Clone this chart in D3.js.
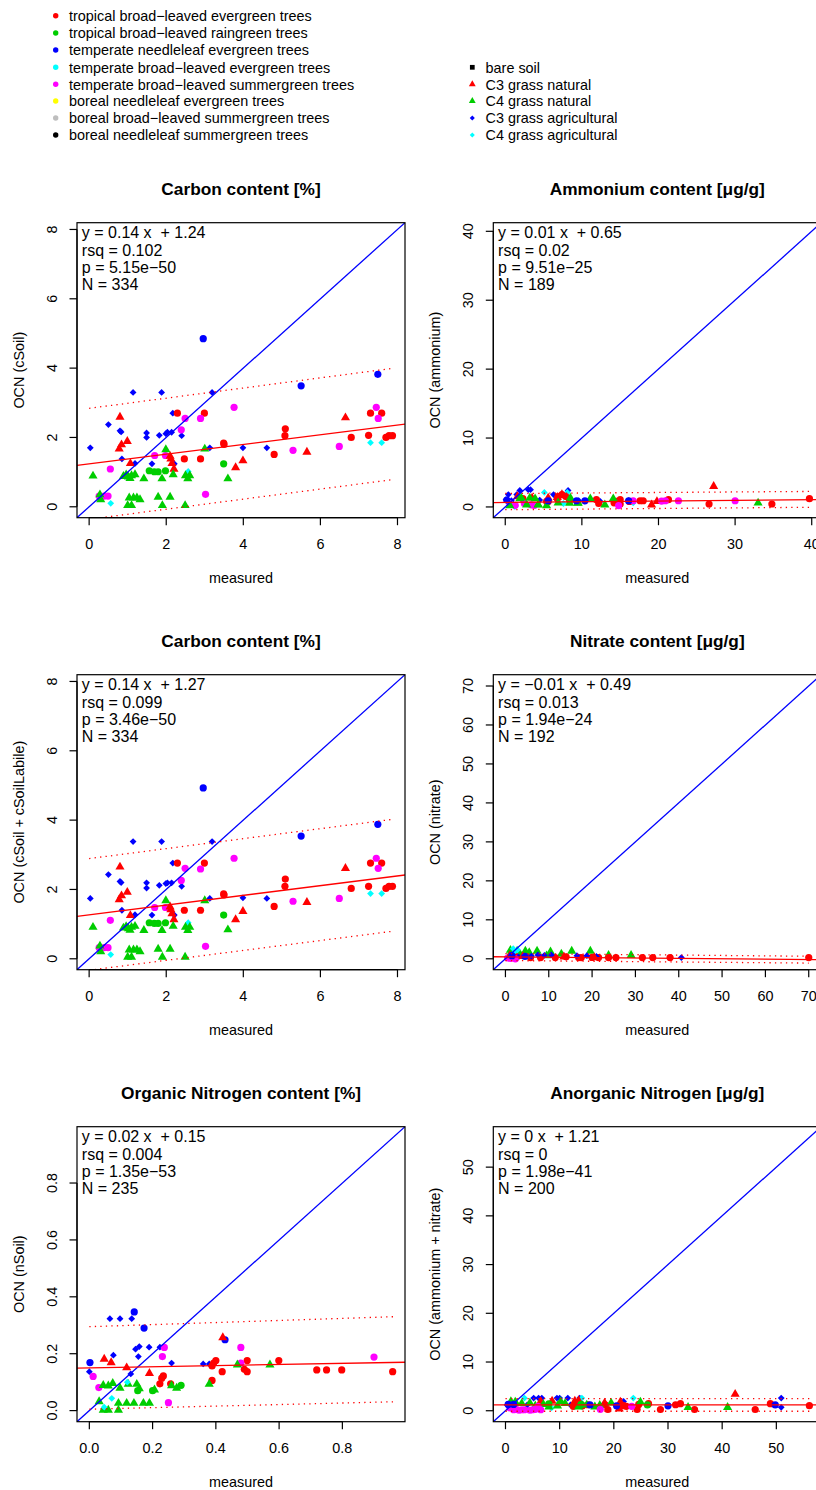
<!DOCTYPE html>
<html>
<head>
<meta charset="utf-8">
<script src="https://cdn.jsdelivr.net/npm/d3@7"></script>
<style>
  body { margin: 0; background: #fff; }
  svg { display: block; }
  text { font-family: "Liberation Sans", Arial, Helvetica, sans-serif; fill: #000; }
</style>
</head>
<body>
<svg id="chart" width="816" height="1490"></svg>
<script>
// ---- plant functional types (legend) ----
const pftLabels = [
  "tropical broad\u2212leaved evergreen trees",
  "tropical broad\u2212leaved raingreen trees",
  "temperate needleleaf evergreen trees",
  "temperate broad\u2212leaved evergreen trees",
  "temperate broad\u2212leaved summergreen trees",
  "boreal needleleaf evergreen trees",
  "boreal broad\u2212leaved summergreen trees",
  "boreal needleleaf summergreen trees",
  "bare soil",
  "C3 grass natural",
  "C4 grass natural",
  "C3 grass agricultural",
  "C4 grass agricultural"
];
const pftColors = ["#FF0000","#00CD00","#0000FF","#00FFFF","#FF00FF","#FFFF00","#BEBEBE","#000000",
                   "#000000","#FF0000","#00CD00","#0000FF","#00FFFF"];
const pftShapes = ["circle","circle","circle","circle","circle","circle","circle","circle",
                   "square","triangle","triangle","diamond","diamond"];

// ---- panel texts ----
const panelTitles = ["Carbon content [%]", "Ammonium content [\u03bcg/g]", "Carbon content [%]",
                     "Nitrate content [\u03bcg/g]", "Organic Nitrogen content [%]", "Anorganic Nitrogen [\u03bcg/g]"];
const yLabels = ["OCN (cSoil)", "OCN (ammonium)", "OCN (cSoil + cSoilLabile)",
                 "OCN (nitrate)", "OCN (nSoil)", "OCN (ammonium + nitrate)"];
const xLabel = "measured";

// ---- axes ----
const axisLimits = [[-0.315, 8.195], [-1.56, 41.25], [-0.315, 8.195], [-2.8, 72.9], [-0.039, 0.998], [-2.25, 58.3]];
const tickValues = [[0,2,4,6,8], [0,10,20,30,40], [0,2,4,6,8], [0,10,20,30,40,50,60,70],
                    [0,0.2,0.4,0.6,0.8], [0,10,20,30,40,50]];

// ---- regression summaries ----
const fitSlope = [0.14, 0.01, 0.14, -0.01, 0.02, 0];
const fitIntercept = [1.24, 0.65, 1.27, 0.49, 0.15, 1.21];
const fitRsq = ["0.102", "0.02", "0.099", "0.013", "0.004", "0"];
const fitP = ["5.15e\u221250", "9.51e\u221225", "3.46e\u221250", "1.94e\u221224", "1.35e\u221253", "1.98e\u221241"];
const fitN = [334, 189, 334, 192, 235, 200];
// prediction band end points: [x start, y start, x end, y end]
const bandUpper = [[0, 2.84, 7.85, 3.99], [0, 1.95, 39.7, 2.25], [0, 2.89, 7.85, 4.02],
                   [0, 1.35, 70, 0.65], [0, 0.295, 0.96, 0.33], [0, 2.5, 56.2, 2.5]];
const bandLower = [[0, -0.36, 7.85, 0.78], [0, -0.4, 39.7, -0.05], [0, -0.33, 7.85, 0.79],
                   [0, -0.45, 70, -1.1], [0, 0.005, 0.96, 0.031], [0, -0.1, 56.2, -0.1]];

// ---- points: [pft index, measured, modelled] ----
const cSoilPoints = [
  [2,2.96,4.85],[2,5.50,3.49],[2,7.49,3.82],
  [11,0.03,1.70],[11,0.50,2.37],[11,0.80,2.19],[11,0.83,2.16],[11,1.14,3.30],[11,1.88,3.30],[11,3.19,3.30],
  [11,1.49,2.13],[11,1.49,2.00],[11,1.82,2.06],[11,1.99,2.11],[11,2.03,2.15],[11,2.14,2.15],[11,2.17,2.70],
  [11,2.40,2.05],[11,0.85,1.38],[11,1.19,1.25],[11,1.63,1.24],[11,2.21,1.24],[11,3.13,1.70],[11,3.99,1.70],[11,4.61,1.70],
  [0,2.29,2.70],[0,2.99,2.70],[0,2.47,1.38],[0,2.89,1.38],[0,3.49,1.84],[0,3.50,1.80],[0,4.80,1.51],[0,5.09,2.25],
  [0,5.08,2.05],[0,6.80,2.00],[0,7.25,2.06],[0,7.30,2.70],[0,7.59,2.70],[0,7.70,2.00],[0,7.78,2.05],[0,7.87,2.05],
  [4,0.55,1.09],[4,0.26,0.31],[4,0.39,0.31],[4,0.49,0.31],[4,1.70,1.48],[4,1.98,1.48],[4,2.39,2.22],[4,2.49,2.55],
  [4,2.89,2.55],[4,3.76,2.87],[4,3.02,0.36],[4,5.29,1.63],[4,6.49,1.74],[4,7.45,2.87],[4,7.50,2.55],
  [1,1.56,1.04],[1,1.69,1.01],[1,1.79,1.01],[1,1.98,1.04],[1,3.49,1.24],
  [12,0.56,0.10],[12,2.57,1.02],[12,7.30,1.85],[12,7.59,1.85],
  [9,0.80,2.59],[9,0.78,1.67],[9,0.84,1.79],[9,0.99,1.89],[9,1.07,1.25],[9,2.10,1.46],[9,2.12,1.38],[9,2.15,1.25],
  [9,2.20,1.09],[9,3.80,1.13],[9,3.99,1.33],[9,5.65,1.58],[9,6.65,2.57],
  [10,0.10,0.89],[10,0.28,0.35],[10,0.30,0.21],[10,0.89,0.88],[10,0.96,0.92],[10,1.02,0.86],[10,1.10,0.90],[10,1.19,0.93],
  [10,1.06,0.82],[10,1.42,0.81],[10,1.89,0.81],[10,1.99,1.65],[10,2.18,0.93],[10,2.50,0.90],[10,2.61,0.90],[10,2.56,0.81],
  [10,3.60,0.81],[10,3.00,1.67],[10,1.04,0.26],[10,1.15,0.26],[10,1.24,0.26],[10,1.32,0.21],[10,1.00,0.04],[10,1.10,0.04],
  [10,1.79,0.28],[10,2.10,0.28],[10,1.90,0.04],[10,2.49,0.04]
];

const ammoniumPoints = [
  [11,0.4,1.8],[11,1.9,2.4],[11,3.0,2.5],[11,3.3,2.5],[11,8.2,2.4],[11,0.1,1.06],[11,1.5,1.8],[11,6.3,1.8],
  [11,10.4,0.8],[11,12.4,0.8],[11,16.1,0.9],[11,0.8,0.9],[11,2.2,1.2],[11,4.5,1.0],[11,7.8,1.6],[11,9.6,0.9],
  [12,5.1,2.1],[12,8.1,2.1],[12,1.2,0.1],[12,16.7,0.6],[12,7.6,0.5],[12,1.3,0.1],
  [9,27.2,3.0],[9,19.1,0.3],[9,19.8,0.8],[9,7.4,1.8],[9,5.6,1.3],[9,6.8,1.4],[9,1.6,1.5],[9,3.5,1.3],
  [0,39.7,1.2],[0,34.8,0.43],[0,26.6,0.43],[0,21.3,1.06],[0,17.6,0.9],[0,18.0,0.9],[0,15.0,1.06],[0,15.0,0.43],
  [0,11.9,1.06],[0,5.4,0.8],[0,12.2,0.5],[0,14.2,0.6],[0,6.8,1.2],[0,7.9,1.5],[0,2.3,1.2],[0,8.4,0.9],
  [0,5.6,0.8],[0,6.9,1.5],[0,7.4,1.8],[0,14.5,0.8],[0,16.2,0.8],
  [4,30.0,0.9],[4,22.6,0.9],[4,20.9,0.9],[4,16.7,0.9],[4,14.8,0.2],[4,3.4,0.3],[4,0.6,0.5],[4,2.5,0.5],
  [4,1.3,0.23],[4,3.8,0.23],[4,20.4,0.85],
  [10,33.0,0.58],[10,14.1,1.2],[10,13.0,0.3],[10,11.1,1.2],[10,9.5,0.6],[10,8.5,1.3],[10,6.9,0.6],[10,5.4,0.2],
  [10,4.3,0.3],[10,2.8,0.3],[10,1.9,1.2],[10,0.6,0.2],[10,3.9,1.2],[10,3.2,1.3],[10,2.1,1.3],[10,4.3,0.33],
  [10,8.4,0.57],[10,9.5,0.57],
  [2,9.3,0.9],[2,10.4,0.9],[2,16.1,0.9],[2,5.6,0.9],[2,0.2,1.0]
];

const cSoilLabilePoints = [
  [2,2.96,4.93],[2,5.50,3.54],[2,7.49,3.88],
  [11,0.03,1.74],[11,0.50,2.43],[11,0.80,2.23],[11,0.83,2.20],[11,1.14,3.38],[11,1.88,3.38],[11,3.19,3.38],
  [11,1.49,2.19],[11,1.49,2.04],[11,1.82,2.12],[11,1.99,2.17],[11,2.03,2.19],[11,2.14,2.19],[11,2.17,2.76],
  [11,2.40,2.09],[11,0.85,1.40],[11,1.19,1.27],[11,1.63,1.26],[11,2.21,1.26],[11,3.13,1.74],[11,3.99,1.76],[11,4.61,1.74],
  [0,2.29,2.76],[0,2.99,2.76],[0,2.47,1.40],[0,2.89,1.40],[0,3.49,1.87],[0,3.50,1.84],[0,4.80,1.51],[0,5.09,2.30],
  [0,5.08,2.09],[0,6.80,2.03],[0,7.25,2.09],[0,7.30,2.76],[0,7.59,2.76],[0,7.70,2.03],[0,7.78,2.09],[0,7.87,2.09],
  [4,0.55,1.11],[4,0.26,0.32],[4,0.39,0.32],[4,0.49,0.32],[4,1.70,1.48],[4,1.98,1.48],[4,2.39,2.26],[4,2.49,2.61],
  [4,2.89,2.59],[4,3.76,2.90],[4,3.02,0.36],[4,5.29,1.66],[4,6.49,1.74],[4,7.45,2.90],[4,7.50,2.61],
  [1,1.56,1.04],[1,1.69,1.02],[1,1.79,1.02],[1,1.98,1.04],[1,3.49,1.26],
  [12,0.56,0.12],[12,2.57,1.04],[12,7.30,1.88],[12,7.59,1.88],
  [9,0.80,2.65],[9,0.78,1.71],[9,0.84,1.82],[9,0.99,1.92],[9,1.07,1.25],[9,2.10,1.50],[9,2.12,1.42],[9,2.15,1.30],
  [9,2.20,1.13],[9,3.80,1.13],[9,3.99,1.37],[9,5.65,1.63],[9,6.65,2.61],
  [10,0.10,0.91],[10,0.28,0.37],[10,0.30,0.21],[10,0.89,0.89],[10,0.96,0.93],[10,1.02,0.87],[10,1.10,0.91],[10,1.19,0.94],
  [10,1.06,0.83],[10,1.42,0.82],[10,1.89,0.82],[10,1.99,1.68],[10,2.18,0.94],[10,2.50,0.91],[10,2.61,0.91],[10,2.56,0.82],
  [10,3.60,0.84],[10,3.00,1.68],[10,1.04,0.26],[10,1.15,0.26],[10,1.24,0.26],[10,1.32,0.21],[10,1.00,0.05],[10,1.10,0.05],
  [10,1.79,0.28],[10,2.10,0.28],[10,1.90,0.05],[10,2.49,0.05]
];

const nitratePoints = [
  [10,1.15,2.2],[10,2.7,2.0],[10,4.6,2.0],[10,7.3,2.0],[10,15.3,2.0],[10,19.6,2.0],[10,12.9,1.2],[10,23.8,0.9],
  [10,29.0,0.9],[10,0.8,0.6],[10,3.5,1.0],[10,9.5,0.8],[10,5.5,1.6],[10,10.4,1.8],
  [12,1.8,2.6],[12,2.0,1.5],[12,2.8,2.3],
  [0,23.8,0.3],[0,25.5,0.3],[0,31.6,0.3],[0,34.0,0.3],[0,38.0,0.3],[0,70.0,0.3],[0,21.5,0.3],[0,16.9,0.3],
  [0,11.5,0.3],[0,8.1,0.3],[0,5.8,0.3],[0,2.5,0.4],[0,14.0,0.5],[0,17.5,0.3],[0,20.0,0.35],
  [11,10.6,1.0],[11,18.8,0.8],[11,40.6,0.3],[11,0.5,0.3],[11,3.0,0.5],[11,6.0,0.7],[11,7.5,1.0],[11,9.0,0.9],
  [11,16.5,0.8],[11,21.0,0.6],
  [4,2.3,0.0],[4,0.5,0.2],[4,1.2,0.1],
  [9,1.0,0.8],[9,4.0,0.6],[9,13.5,0.5],[9,20.5,0.3],
  [2,1.5,0.8],[2,4.5,0.6]
];

const nSoilPoints = [
  [2,0.002,0.169],[2,0.142,0.347],[2,0.173,0.29],[2,0.429,0.249],
  [11,0.0,0.137],[11,0.065,0.323],[11,0.097,0.323],[11,0.134,0.323],[11,0.076,0.195],[11,0.146,0.216],[11,0.158,0.225],
  [11,0.189,0.223],[11,0.223,0.223],[11,0.155,0.19],[11,0.131,0.129],[11,0.26,0.167],[11,0.36,0.164],[11,0.379,0.164],
  [9,0.047,0.181],[9,0.069,0.169],[9,0.118,0.151],[9,0.19,0.131],[9,0.422,0.257],
  [0,0.223,0.094],[0,0.229,0.114],[0,0.234,0.122],[0,0.257,0.094],[0,0.388,0.106],[0,0.388,0.157],[0,0.393,0.167],
  [0,0.40,0.176],[0,0.42,0.137],[0,0.49,0.145],[0,0.499,0.137],[0,0.499,0.176],[0,0.599,0.176],[0,0.719,0.143],
  [0,0.75,0.143],[0,0.798,0.143],[0,0.959,0.137],
  [4,0.012,0.12],[4,0.03,0.081],[4,0.237,0.222],[4,0.231,0.19],[4,0.25,0.028],[4,0.479,0.222],[4,0.479,0.167],[4,0.9,0.188],
  [10,0.031,0.032],[10,0.044,0.089],[10,0.06,0.087],[10,0.074,0.096],[10,0.044,0.002],[10,0.06,0.002],[10,0.092,0.002],
  [10,0.092,0.026],[10,0.097,0.079],[10,0.118,0.026],[10,0.123,0.093],[10,0.141,0.026],[10,0.15,0.093],[10,0.171,0.026],
  [10,0.19,0.026],[10,0.158,0.077],[10,0.206,0.073],[10,0.26,0.088],[10,0.276,0.079],[10,0.379,0.093],[10,0.468,0.161],
  [10,0.571,0.161],
  [1,0.153,0.07],[1,0.2,0.07],[1,0.29,0.089],
  [12,0.071,0.043],[12,0.047,0.012],[12,0.12,0.1]
];

const anorganicNPoints = [
  [11,5.2,2.6],[11,6.1,2.6],[11,6.7,2.6],[11,9.5,2.6],[11,10.0,2.6],[11,11.5,2.6],[11,13.7,2.6],[11,50.9,2.6],
  [11,50.9,0.7],[11,0.3,1.2],[11,2.0,1.4],[11,21.8,1.9],[11,18.0,1.2],[11,4.0,1.2],[11,8.0,1.2],[11,12.0,1.2],
  [12,3.5,2.6],[12,14.1,2.6],[12,23.6,2.6],[12,8.5,0.6],
  [9,42.4,3.4],[9,12.8,2.0],[9,18.3,1.6],[9,8.6,2.0],[9,21.0,0.4],[9,6.5,1.9],[9,13.5,2.1],[9,21.2,1.8],
  [0,26.4,1.44],[0,31.4,1.23],[0,32.3,1.44],[0,48.9,1.44],[0,56.1,1.03],[0,15.2,1.23],[0,21.8,1.03],[0,18.4,1.23],
  [0,18.9,0.25],[0,28.6,0.25],[0,34.9,0.25],[0,46.1,0.25],[0,24.3,0.25],[0,24.6,1.3],[0,22.3,0.9],[0,12.5,0.9],
  [0,13.0,1.5],[0,14.2,1.0],
  [10,41.0,0.7],[10,33.7,0.7],[10,1.0,1.9],[10,1.8,1.8],[10,3.0,1.5],[10,4.5,1.6],[10,7.0,1.3],[10,8.0,0.8],
  [10,9.6,1.0],[10,11.0,1.5],[10,13.5,0.8],[10,15.0,1.2],[10,16.5,0.8],[10,17.4,1.1],[10,19.5,1.6],[10,24.9,1.8],
  [10,5.5,1.0],[10,10.2,1.9],
  [4,1.5,0.2],[4,2.5,0.1],[4,3.5,0.2],[4,4.5,0.1],[4,5.5,0.3],[4,6.5,0.2],[4,6.0,0.9],[4,17.5,0.3],[4,23.3,0.9],[4,0.8,0.6],
  [4,2.0,0.3],[4,3.0,0.2],[4,5.0,0.2],
  [2,0.5,1.3],[2,1.5,1.3],[2,30.0,1.0],[2,49.8,1.2],[2,15.6,1.2],[2,20.5,1.0],
  [1,8.0,1.4],[1,14.0,1.3],[1,26.2,1.2]
];

const panelPoints = [cSoilPoints, ammoniumPoints, cSoilLabilePoints, nitratePoints, nSoilPoints, anorganicNPoints];

// ---- layout ----
const svg = d3.select("#chart");
const colLeft = [77, 493.3];
const rowTop = [222.7, 674.7, 1126.7];
const boxW = 328, boxH = 295;
const fontBase = 14.4;

// filled diamond (square rotated 45 degrees)
const symbolRDiamond = {
  draw(ctx, size) {
    const r = Math.sqrt(size / 2);
    ctx.moveTo(0, -r); ctx.lineTo(r, 0); ctx.lineTo(0, r); ctx.lineTo(-r, 0); ctx.closePath();
  }
};
const shapeType = { circle: d3.symbolCircle, square: d3.symbolSquare, triangle: d3.symbolTriangle, diamond: symbolRDiamond };
const shapeSize = { circle: Math.PI * 3.6 * 3.6, square: 40, triangle: 36, diamond: 23 };
function symbolPath(pft, scale) {
  const s = pftShapes[pft];
  return d3.symbol().type(shapeType[s]).size(shapeSize[s] * scale * scale)();
}

// ---- top legend ----
const legendRowY = [15.7, 33, 50, 67.3, 84.3, 101, 118, 135];
const legendLeft = svg.append("g");
pftLabels.forEach((lab, i) => {
  const leftCol = i < 8;
  const cy = leftCol ? legendRowY[i] : legendRowY[i - 8 + 3];
  const mx = leftCol ? 55.7 : 472.3;
  legendLeft.append("path")
    .attr("d", symbolPath(i, 0.75))
    .attr("transform", `translate(${mx},${cy})`)
    .attr("fill", pftColors[i]);
  legendLeft.append("text")
    .attr("x", mx + 13.3).attr("y", cy + 5.2)
    .attr("font-size", fontBase)
    .text(lab);
});

// ---- panels ----
panelPoints.forEach((pts, k) => {
  const col = k % 2, row = Math.floor(k / 2);
  const x0 = colLeft[col], y0 = rowTop[row];
  const g = svg.append("g").attr("transform", `translate(${x0},${y0})`);
  const lim = axisLimits[k];
  const x = d3.scaleLinear().domain(lim).range([0, boxW]);
  const y = d3.scaleLinear().domain(lim).range([boxH, 0]);
  const fmt = k === 4 ? d3.format(".1f") : d3.format("d");

  const clipId = "clip" + k;
  g.append("clipPath").attr("id", clipId)
    .append("rect").attr("width", boxW).attr("height", boxH);
  const plot = g.append("g").attr("clip-path", `url(#${clipId})`);

  // points
  plot.selectAll("path.pt").data(pts).join("path")
    .attr("class", "pt")
    .attr("d", d => symbolPath(d[0], 1))
    .attr("transform", d => `translate(${x(d[1])},${y(d[2])})`)
    .attr("fill", d => pftColors[d[0]]);

  // 1:1 line
  plot.append("line")
    .attr("x1", x(lim[0])).attr("y1", y(lim[0]))
    .attr("x2", x(lim[1])).attr("y2", y(lim[1]))
    .attr("stroke", "#0000FF").attr("stroke-width", 1.3);

  // regression line
  const a = fitSlope[k], b = fitIntercept[k];
  plot.append("line")
    .attr("x1", x(lim[0])).attr("y1", y(a * lim[0] + b))
    .attr("x2", x(lim[1])).attr("y2", y(a * lim[1] + b))
    .attr("stroke", "#FF0000").attr("stroke-width", 1.3);

  // prediction band
  [bandUpper[k], bandLower[k]].forEach(bd => {
    plot.append("line")
      .attr("x1", x(bd[0])).attr("y1", y(bd[1]))
      .attr("x2", x(bd[2])).attr("y2", y(bd[3]))
      .attr("stroke", "#FF0000").attr("stroke-width", 1.3)
      .attr("stroke-dasharray", "1.3,4.2");
  });

  // frame
  g.append("rect").attr("width", boxW).attr("height", boxH)
    .attr("fill", "none").attr("stroke", "#000").attr("stroke-width", 1.2);

  // x axis
  const ticks = tickValues[k];
  const xa = g.append("g").attr("transform", `translate(0,${boxH})`);
  xa.append("line").attr("x1", x(ticks[0])).attr("x2", x(ticks[ticks.length - 1]))
    .attr("stroke", "#000").attr("stroke-width", 1.2);
  ticks.forEach(t => {
    xa.append("line").attr("x1", x(t)).attr("x2", x(t)).attr("y1", 0).attr("y2", 7.5)
      .attr("stroke", "#000").attr("stroke-width", 1.2);
    xa.append("text").attr("x", x(t)).attr("y", 31.5)
      .attr("text-anchor", "middle").attr("font-size", fontBase).text(fmt(t));
  });

  // y axis
  const ya = g.append("g");
  ya.append("line").attr("y1", y(ticks[0])).attr("y2", y(ticks[ticks.length - 1]))
    .attr("stroke", "#000").attr("stroke-width", 1.2);
  ticks.forEach(t => {
    ya.append("line").attr("x1", -7.5).attr("x2", 0).attr("y1", y(t)).attr("y2", y(t))
      .attr("stroke", "#000").attr("stroke-width", 1.2);
    ya.append("text")
      .attr("transform", `translate(-20.1,${y(t)}) rotate(-90)`)
      .attr("text-anchor", "middle").attr("font-size", fontBase).text(fmt(t));
  });

  // titles and axis labels
  g.append("text").attr("x", boxW / 2).attr("y", -27.7)
    .attr("text-anchor", "middle").attr("font-size", 17.3).attr("font-weight", "bold")
    .text(panelTitles[k]);
  g.append("text").attr("x", boxW / 2).attr("y", boxH + 65.5)
    .attr("text-anchor", "middle").attr("font-size", fontBase).text(xLabel);
  g.append("text")
    .attr("transform", `translate(-53.5,${boxH / 2}) rotate(-90)`)
    .attr("text-anchor", "middle").attr("font-size", fontBase).text(yLabels[k]);

  // fit statistics
  const slopeTxt = String(a).replace("-", "\u2212");
  const lines = [`y = ${slopeTxt} x  + ${b}`, `rsq = ${fitRsq[k]}`, `p = ${fitP[k]}`, `N = ${fitN[k]}`];
  lines.forEach((s, i) => {
    g.append("text").attr("x", 4.8).attr("y", 15.8 + i * 17.1)
      .attr("font-size", 16).style("white-space", "pre").text(s);
  });
});
</script>
</body>
</html>
